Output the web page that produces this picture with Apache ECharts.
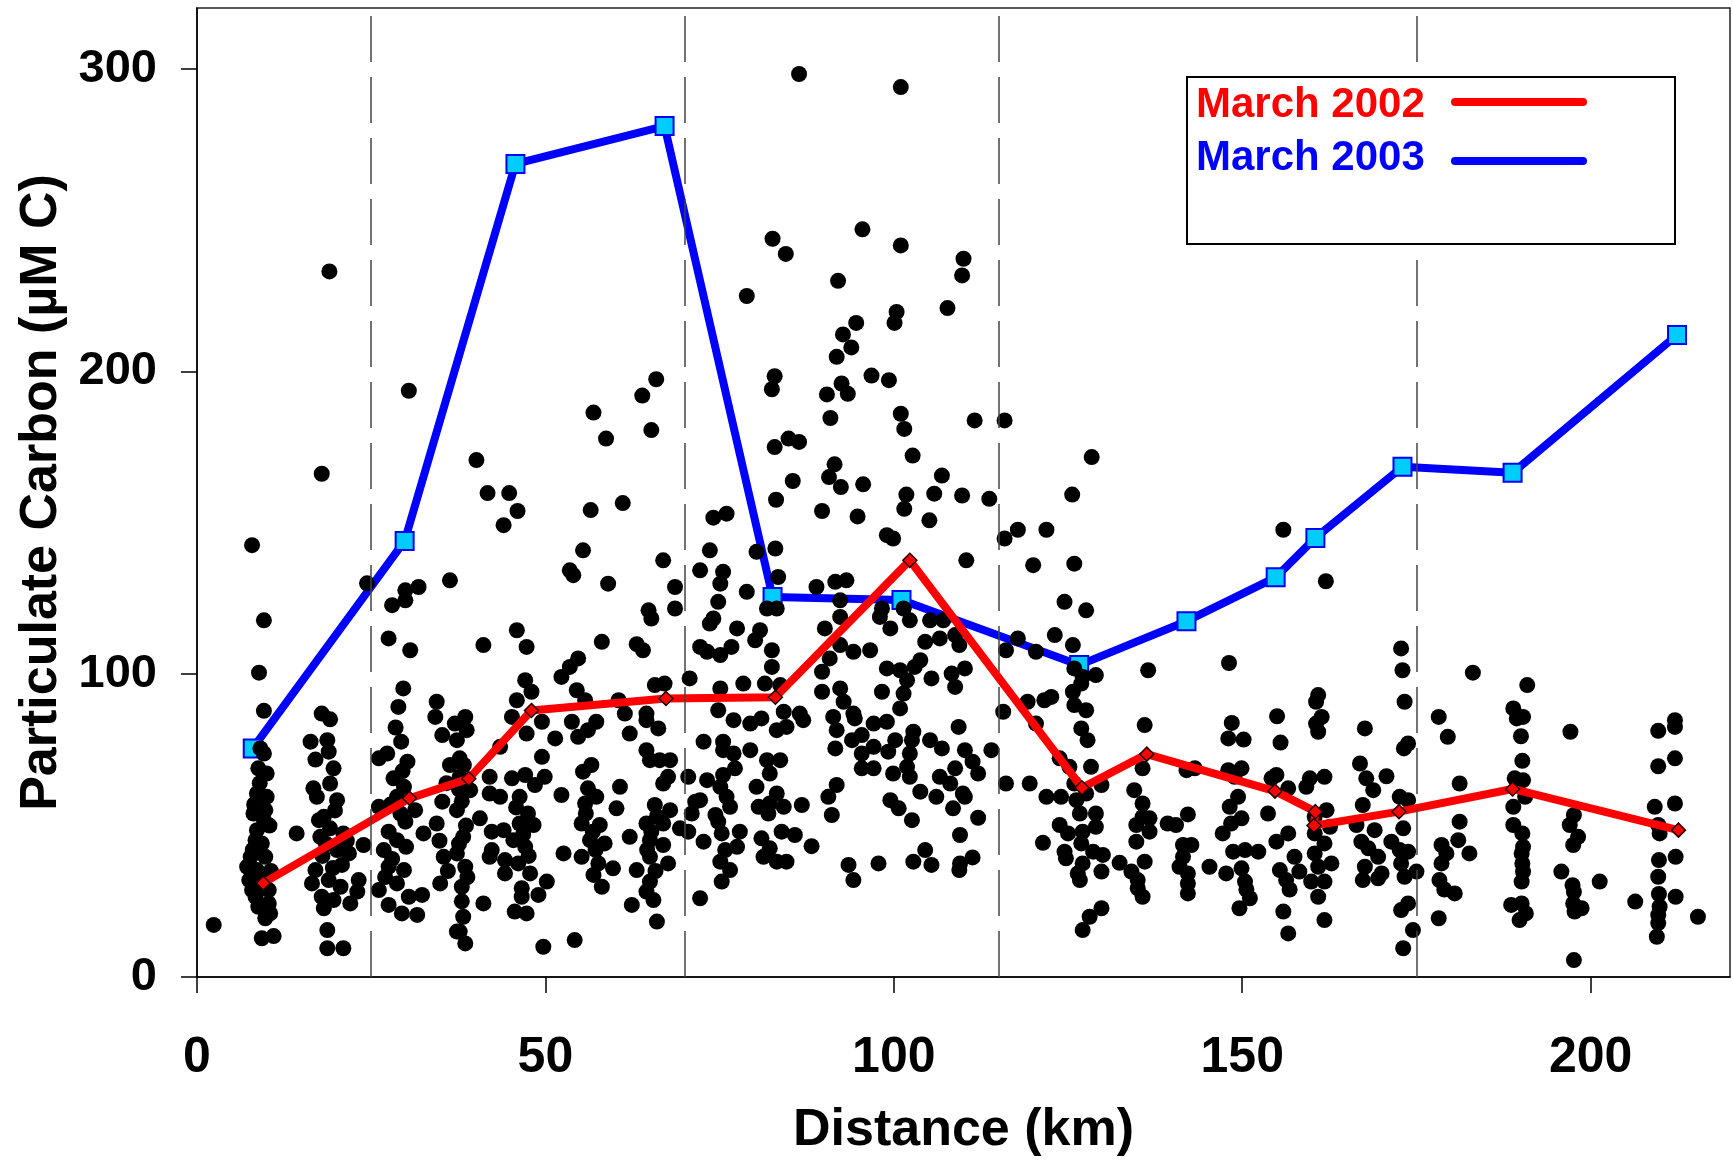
<!DOCTYPE html>
<html>
<head>
<meta charset="utf-8">
<title>Particulate Carbon vs Distance</title>
<script src="https://cdn.jsdelivr.net/npm/echarts@6.0.0/dist/echarts.min.js"></script>
<style>
  html, body { margin: 0; padding: 0; background: #fff; }
  #chart { width: 1733px; height: 1164px; }
</style>
</head>
<body>
<div id="chart"></div>
<script>
// axis ticks and the dashed section dividers (km)
const xTicks = [0, 50, 100, 150, 200]
const yTicks = [0, 100, 200, 300]
const dividerKm = [25, 70, 115, 175]

// transect means
const march2002Km = [9.5, 30.5, 39, 48, 67.3, 83, 102.3, 127, 136.3, 154.7, 160.5, 160.3, 172.5, 188.8, 212.6]
const march2002Carbon = [31, 59, 65.5, 88, 92, 92.4, 137.6, 62.5, 73.6, 61.4, 54.6, 50, 54.6, 62.1, 48.5]

const march2003Km = [8, 29.8, 45.7, 67.1, 82.6, 101.1, 126.6, 142, 154.8, 160.5, 173, 188.8, 212.4]
const march2003Carbon = [75.5, 144, 268.5, 281, 125.5, 124.5, 103, 117.5, 132, 145, 168.5, 166.5, 212]

// individual samples [km, µM C]
const stationPoints = [
  // ~9 km
  [7.9,142.6],[9.6,117.8],[8.9,100.5],[9.6,87.9],[9.1,75.5],[9.6,73.8],[8.8,68.9],[10,67.2],[8.6,60.6],[10,59.5],
  [8.1,54],[9.8,55.1],[9.6,51.8],[8.4,45.2],[9.3,44.1],[7.7,39.7],[9.8,39.7],[7.2,36.4],[8.6,35.3],[7.9,28.7],
  [10.3,28.7],[8.8,23.2],[10.3,24.3],[9.8,19.4],[9.3,12.8],[11,13.5],[2.4,17.2],[8.6,48.5],[9.3,32],[8.4,26.5],
  [8.2,57],[9.0,64],[10.4,50],[8.0,42],[10.6,35],[8.9,30.5],[7.5,32],[10.5,21],
  // ~18 km
  [17.9,87],[19.1,85.1],[16.3,77.7],[18.7,78.2],[18.9,74.4],[17,71.8],[19.6,68.9],[19.1,63.9],[16.7,62.3],[17.2,59.5],
  [20.1,58.4],[18.2,52.9],[17.5,51.8],[14.3,47.4],[19.1,49.1],[17.7,46.3],[21,47.4],[20.1,41.9],[21.8,40.8],[17,35.3],
  [16.5,30.9],[18.9,32],[20.6,29.8],[23.2,32],[23,28.2],[23.9,43.6],[17.9,26.5],[19.6,25.4],[22,24.3],[18.2,22.7],
  [18.7,15.5],[18.7,9.5],[21,9.5],[19,233],[17.9,166.2],[19.8,55],[18.5,44],[20.8,37],[19.5,36],[18,40],[21.5,45],
  // ~29 km
  [24.4,130],[29.9,127.7],[31.8,128.8],[28,122.8],[29.9,124.4],[36.3,131],[27.5,111.8],[30.6,107.9],[29.6,95.3],[28.9,89.2],
  [28.5,82.4],[29.3,77.7],[26.1,72.2],[27.3,73.8],[30.2,71.1],[28.2,65.6],[29.7,62.8],[28.7,59.5],[26.1,56.2],[29.2,54],
  [31.3,55.1],[27.5,48],[29.9,51.3],[26.8,41.9],[28.7,45.2],[27.5,36.4],[29.7,35.3],[26.1,28.7],[28.7,30.9],[30.4,26.5],
  [27.5,23.8],[29.4,21],[31.6,20.5],[32.3,27.1],[32.5,47.4],[34.4,90.9],[34.2,85.9],[35.2,79.9],[36.3,70],[35.2,57.9],
  [34.4,50.7],[35.4,39.7],[34.9,30.9],[37.3,15],[30.4,193.6],[28,39],[30,43],[27,33],[29.5,68],[27.8,57],[35.8,64],[34.8,45],[36,35],
  // 37-72 km
  [44,149.2],[55.4,140.9],[53.5,134.3],[54,132.7],[59,129.9],[66.9,137.6],[68.6,128.8],[68.6,121.7],
  [64.8,121.1],[65.2,118.4],[45.9,114.5],[41.1,109.6],[47.3,109],[58.1,110.7],[63.1,109.9],[64,107.9],
  [54.7,105.2],[53.5,102.4],[52.3,99.1],[47.1,98],[48,94.2],[54.5,94.7],[55.7,91.4],[60.5,91.4],[45.9,91.4],[65.7,96.4],
  [67.1,96.9],[70.7,98.6],[45.2,85.9],[61.4,87],[64.5,87],[64.5,84.8],[66.2,82.1],[53.8,84.3],[57.3,84.3],[54.7,79.3],
  [56.1,81.5],[49.5,84.3],[51.4,78.8],[47.3,80.4],[62.1,80.4],[38.5,85.9],[37,83.7],[38.7,81.5],[37.3,78.2],
  [43.5,76],[37.7,72.2],[49.5,72.7],[64.5,74.9],[65,71.6],[66.4,71.6],[67.9,71.6],[56.6,70],[55.4,67.8],[67.6,66.1],
  [66.9,63.9],[37.7,66.1],[42,66.1],[45.2,65.6],[47.1,66.7],[49.9,66.1],[48.5,63.4],[60.7,62.8],[70.5,66.1],
  [39.2,61.7],[42,60.6],[43.5,59.5],[46.3,59.5],[52.3,60.1],[56.1,62.3],[57.3,59.5],[55.7,57.3],[60.2,55.7],[65.7,56.8],
  [67.9,55.1],[71.5,57.9],[71,54],[40.6,52.4],[37.3,55.1],[47.5,54],[46.3,50.7],[48.3,50.2],[44,48.5],[42.3,48],
  [55.2,50.7],[57.8,50.2],[64.5,50.7],[66.9,50.7],[69.3,49.1],[70.5,48],[38.2,46.3],[37.3,40.8],[45.4,45.2],[47.1,43],
  [56.4,45.2],[58.5,44.1],[62.1,46.3],[65,45.2],[66.9,43.6],[42.3,41.9],[52.6,40.8],[55.2,39.7],[42,39.7],
  [44.2,38.6],[46.1,37.5],[57.6,37.5],[65,39.7],[67.6,37.5],[38.5,36.4],[59.7,35.9],[63.1,35.3],[44.2,34.2],[47.8,34.2],
  [56.9,33.7],[38,29.8],[50.2,31.5],[46.6,29.3],[58.1,29.8],[65,31.5],[49,27.1],[46.6,26.5],[64.5,28.2],[65.5,25.4],
  [41.1,24.3],[62.4,23.8],[45.6,21.6],[47.3,21],[38.2,19.9],[66,18.3],[37.7,15],[38.5,11.1],[49.7,10],[54.2,12.2],
  [38,58],[38.6,50],[37.6,44],[38.8,33],[38,25],[46.8,47],[47.6,40],[45.8,56],[56.8,48],[57.2,42],[55.8,54],
  [65.2,48],[64.6,42],[66,53],[65.8,35],[38.3,70],[37.6,62],
  // upper scatter
  [86.4,298.2],[101,293.9],[82.6,243.8],[84.5,238.8],[95.5,246.9],[101,241.6],[110,237.2],[109.8,231.7],[92,229.9],[78.9,224.9],
  [107.7,220.9],[100.4,219.6],[100.1,216],[94.6,216],[92.7,212.2],[93.9,207.9],[91.8,204.8],[82.9,198.4],[82.5,194.1],[96.8,198.6],
  [99.3,197.1],[92.5,196],[90.4,192.4],[93.4,192.6],[65.9,197.4],[63.9,192],[56.9,186.4],[58.7,177.8],[65.2,180.6],[90.9,184.6],
  [101,186],[101.5,181],[102.7,172.2],[82.9,175],[84.9,177.8],[86.4,176.7],[91.5,169.3],[90.7,165.1],[92.4,161.8],[95.6,162.7],
  [85.5,163.8],[106.9,165.6],[83.1,157.6],[101.8,159.3],[105.8,159.6],[109.8,159],[101.5,154.6],[89.7,153.9],[94.8,152.1],[105.1,150.8],
  [40.1,170.7],[41.7,159.8],[44.8,159.8],[46,153.9],[56.5,154.2],[61.1,156.5],[74.1,151.7],[76,153],
  [111.6,183.8],[115.9,183.8],[128.4,171.7],[113.7,157.9],[125.6,159.3],
  // 72-109 km
  [99,145.9],[99.9,144.8],[73.6,140.9],[80.3,140.4],[83,141.5],[72.2,134.3],[75.5,133.8],[75.1,129.9],[78.9,127.2],[83.4,132.1],
  [88.9,128.8],[91.6,130.5],[93.2,131],[92.3,124.4],[74.8,123.9],[74.1,118.4],[73.6,116.7],[81.8,121.7],[83.2,121.7],[80.8,114.5],
  [80.1,111.2],[77.5,115.1],[76.7,109],[73.2,107.4],[75.1,106.3],[72.2,109],[90.1,115.1],[92.3,118.9],[92.3,109.6],[94.2,107.4],
  [96.6,107.9],[98.3,121.7],[98,118.9],[99.5,115.1],[101.4,121.7],[102.3,117.8],[105.2,117.8],[107.1,117.8],[104.5,110.7],[106.6,111.8],
  [108.8,112.9],[82.5,107.9],[82.5,102.4],[90.8,105.2],[89.7,100.8],[99,101.9],[100.9,101.3],[103.8,104.6],[103,102.4],[105.4,98.6],
  [108.3,100.2],[78.4,96.9],[81.5,96.9],[83.7,96.4],[75.1,95.3],[101.9,98],[101.4,93.6],[89.7,94.2],[92.3,95.3],[98.3,94.2],
  [108.8,95.8],[74.8,88.1],[77,84.8],[79.4,83.7],[81,85.4],[84.2,87.6],[83.2,81.5],[84.6,82.6],[86.5,87],[87,84.8],
  [92.8,90.9],[91.3,85.9],[91.8,81.5],[94.2,87],[94.4,85.4],[97.1,83.7],[99,84.3],[100.9,88.7],[100.2,78.2],[102.8,81],
  [102.6,78.2],[105.2,78.2],[106.9,75.5],[109.3,82.6],[95.4,79.9],[94,78.2],[97.1,76],[95.4,73.8],[99.2,74.4],[102.3,73.8],
  [101.9,69.4],[102.3,66.1],[91.6,75.5],[72.7,77.7],[75.5,77.7],[75.5,74.9],[77,73.8],[79.4,74.9],[81.8,71.6],[83.7,71.6],
  [82.2,67.2],[77.2,68.9],[75.5,66.7],[73.2,65],[95.4,68.9],[97.1,68.9],[99.9,67.2],[106.6,66.1],[108.1,63.9],[108.8,68.9],
  [75.1,62.8],[76,59.5],[80.3,62.8],[83.2,60.6],[91.8,63.4],[90.6,59.5],[103.8,61.2],[106.1,59.5],[99.5,58.4],[100.7,55.7],
  [72.2,58.4],[76.5,56.2],[80.6,56.2],[82.2,57.3],[84.2,56.2],[86.8,56.8],[108.5,55.7],[74.4,53.5],[74.8,51.3],[91.1,53.5],
  [102.6,51.8],[82,54],[75.3,47.4],[77.9,48],[72.7,44.7],[81,45.8],[83.9,48],[85.8,46.9],[109.5,46.9],[75.8,41.9],
  [77.5,43],[82.2,42.5],[88.2,43.2],[81.3,39.7],[83.2,38.1],[84.6,38.1],[75.1,38.1],[76.5,35.3],[93.5,37],[97.8,37.5],
  [102.8,38.1],[104.5,41.9],[105.4,37],[109.5,37.5],[94.2,32],[75.3,31.5],[72.2,26],
  // 109-145 km
  [115.9,144.8],[117.8,147.7],[121.9,147.7],[110.4,137.6],[120,136],[125.9,136.5],[124.5,123.9],[127.6,121.1],[123.1,112.9],[125.7,109.6],
  [117.8,111.8],[116.1,107.9],[120.4,107.4],[109.4,109.6],[110.2,101.9],[125.9,101.9],[127.1,99.1],[129,99.7],[126.9,96.9],
  [125.7,94.2],[125.9,89.8],[127.6,88.1],[136.5,101.3],[121.6,91.4],[122.6,92.5],[119.2,90.9],[115.7,87.6],[120.4,83.7],
  [136,83.2],[126.9,82.1],[127.8,78.2],[110.2,74.9],[114,74.9],[111.3,71.1],[112.1,67.2],[123.8,72.2],[125.2,69.4],[128.3,69.4],
  [135.7,68.9],[142,68.3],[143.2,68.9],[116.1,63.9],[119.5,63.9],[109.9,60.6],[110.2,59.5],[121.9,59.5],[124,59.5],[125.9,63.9],
  [129.8,63.4],[134.5,61.7],[126.2,58.4],[127.6,60.6],[135.7,57.3],[112.1,52.6],[126.7,54],[129,54],[135.7,52.9],[136.7,52.4],
  [142.2,53.7],[139.3,50.7],[140.5,50.2],[134.8,50.2],[123.8,50.2],[129,49.6],[127.1,48],[125,47.4],[136.7,48],[134.8,44.7],
  [121.4,44.3],[126.9,44.1],[141.5,43.6],[142.7,43.6],[124.5,41.4],[128.6,41.4],[130,40.3],[141.5,39.7],[111.3,39.5],[109.4,35.3],
  [124.7,39.2],[127.1,37.5],[132.4,37.7],[136,38.1],[141,36.4],[129.8,34.8],[134.1,34.8],[142.2,34.2],[126.4,34.2],[126.7,32],
  [135,32],[142.2,30.9],[135,29.3],[135.7,26.5],[142.2,27.6],[129.8,22.7],[128.1,19.9],[127.1,15.5],
  // 145-181 km
  [155.9,147.7],[162,130.7],[148.1,103.7],[172.8,108.5],[173,101.3],[173.3,90.9],[160.9,93.1],[160.6,90.9],[161.4,85.9],[160.6,83.7],
  [160.9,81],[155,86.1],[155.5,77.4],[148.5,83.9],[148,78.8],[150.2,78.4],[167.6,82.1],[173.8,77.1],[173.2,75.5],[178.2,85.9],
  [179.5,79.3],[166.9,70.5],[148,68.3],[149.9,68.9],[148.9,66.1],[154.9,66.7],[154.2,65.6],[159.7,65.6],[161.8,66.1],[167.8,65.6],
  [170.7,66.3],[168.8,61.7],[156.6,62.3],[159.2,62.8],[149.4,59.5],[148.2,56.2],[172.6,59.5],[173.8,58.4],[181.2,63.9],[167.3,56.8],
  [153.7,54],[162.1,55.1],[160.4,52.9],[149.9,52.4],[148.4,50.7],[166.4,50.2],[169,48.5],[173.1,49.1],[162.6,49.6],[147.2,47.4],
  [156.6,47.4],[160.4,47.4],[181.2,51.3],[181,45.2],[154.9,44.7],[167.1,44.7],[171.4,44.7],[161.8,44.1],[148.7,41.4],[150.4,41.9],
  [152.3,41.4],[168.1,42.5],[172.6,41.9],[173.8,41.4],[178.6,43.6],[179.3,40.8],[160.4,40.8],[157.5,39.7],[169.5,39.7],[178.6,37.5],
  [145.3,36.4],[149.9,35.9],[155.4,35.3],[158.2,34.8],[162.8,37.5],[160.9,36.4],[167.6,36.4],[172.8,37.5],[175,34.8],[147.7,34.2],
  [170,34.2],[150.4,31.5],[156.3,32],[159.9,31.5],[161.8,31.5],[167.3,32],[169.5,32.6],[173.3,33.1],[178.3,32],[150.6,28.9],
  [156.8,28.9],[160.9,26.5],[151.1,26],[149.6,22.7],[155.9,21.6],[173.8,24.3],[172.8,22.1],[161.8,18.8],[178.2,19.4],[156.6,14.4],
  [174.5,15.5],[173.1,9.5],[179,28.9],
  // 181-216 km
  [183.1,100.5],[190.9,96.4],[188.9,88.7],[190.3,85.9],[189.4,85.4],[190,79.5],[197.1,81],[209.7,81.3],[212.1,84.8],[212.1,82.6],
  [190.2,71.4],[209.7,69.6],[212.1,72.2],[189.1,65.6],[190.3,65],[190.6,59.5],[188.9,56.2],[209.2,56.2],[212.1,57.3],[197.6,53.5],
  [188.9,50.2],[190.2,47.4],[197,50.2],[198.2,46.3],[209.9,47.4],[209.7,50.2],[190.3,43],[197.5,43.6],[182.6,40.8],[190.1,40.8],
  [209.8,38.6],[212.2,39.7],[190.2,37.5],[190.3,34.8],[195.8,34.8],[209.7,33.1],[201.3,31.5],[190.1,31.5],[197.4,30.3],[197.6,28.1],
  [180.5,27.6],[209.8,27.4],[212.2,26.5],[206.4,24.9],[188.6,23.8],[190.1,24.3],[197.5,24.3],[198.7,22.7],[197.7,21.6],[190.7,21],
  [189.8,18.8],[209.9,23.2],[209.7,20.5],[209.7,17.8],[209.5,13.3],[215.4,19.9],[197.6,5.6]
]

const FONT = '"Liberation Sans", Arial, sans-serif'

const chart = echarts.init(document.getElementById('chart'), null, { renderer: 'canvas' })

chart.setOption({
  animation: false,
  backgroundColor: '#fff',
  grid: {
    left: 197,
    right: 3,
    top: 8,
    bottom: 187,
    show: true,
    borderColor: '#222',
    borderWidth: 1.5,
    containLabel: false
  },
  xAxis: {
    type: 'value',
    min: 0,
    max: 220,
    interval: 50,
    name: 'Distance (km)',
    nameLocation: 'middle',
    nameGap: 128,
    nameTextStyle: { fontFamily: FONT, fontWeight: 'bold', fontSize: 52, color: '#000' },
    axisLine: { onZero: false, lineStyle: { color: '#000', width: 1.5 } },
    axisTick: { customValues: xTicks, length: 16, lineStyle: { color: '#000', width: 1.5 } },
    axisLabel: {
      customValues: xTicks,
      margin: 56,
      fontFamily: FONT,
      fontWeight: 'bold',
      fontSize: 50,
      color: '#000'
    },
    splitLine: { show: false }
  },
  yAxis: {
    type: 'value',
    min: 0,
    max: 320,
    interval: 100,
    name: 'Particulate Carbon (µM C)',
    nameLocation: 'middle',
    nameGap: 118,
    nameTextStyle: { fontFamily: FONT, fontWeight: 'bold', fontSize: 52, color: '#000' },
    axisLine: { onZero: false, lineStyle: { color: '#000', width: 1.5 } },
    axisTick: { customValues: yTicks, length: 16, lineStyle: { color: '#000', width: 1.5 } },
    axisLabel: {
      customValues: yTicks,
      margin: 40,
      fontFamily: FONT,
      fontWeight: 'bold',
      fontSize: 47,
      color: '#000'
    },
    splitLine: { show: false }
  },
  series: [
    {
      name: 'March 2003',
      type: 'line',
      z: 2,
      data: march2003Km.map((km, i) => [km, march2003Carbon[i]]),
      symbol: 'rect',
      symbolSize: 18,
      showAllSymbol: true,
      lineStyle: { color: '#0000ff', width: 8, cap: 'round', join: 'round' },
      itemStyle: { color: '#00ccff', borderColor: '#0000ff', borderWidth: 2 }
    },
    {
      name: 'samples',
      type: 'scatter',
      z: 3,
      data: stationPoints,
      symbol: 'circle',
      symbolSize: 16,
      itemStyle: { color: '#000', opacity: 1 },
      markLine: {
        silent: true,
        symbol: ['none', 'none'],
        label: { show: false },
        lineStyle: { color: '#444', width: 1.5, type: [46, 15] },
        data: dividerKm.map(km => ({ xAxis: km }))
      }
    },
    {
      name: 'March 2002',
      type: 'line',
      z: 4,
      data: march2002Km.map((km, i) => [km, march2002Carbon[i]]),
      symbol: 'diamond',
      symbolSize: 14,
      showAllSymbol: true,
      lineStyle: { color: '#ff0000', width: 8, cap: 'round', join: 'round' },
      itemStyle: { color: '#ff0000', borderColor: '#220000', borderWidth: 1.5 }
    }
  ],
  graphic: [
    {
      type: 'rect',
      z: 10,
      shape: { x: 1187, y: 77, width: 488, height: 167 },
      style: { fill: '#fff', stroke: '#000', lineWidth: 2 }
    },
    {
      type: 'text',
      z: 11,
      x: 1196,
      y: 105,
      style: { text: 'March 2002', fill: '#ff0000', font: 'bold 42px ' + FONT, verticalAlign: 'middle' }
    },
    {
      type: 'text',
      z: 11,
      x: 1196,
      y: 158,
      style: { text: 'March 2003', fill: '#0000ff', font: 'bold 42px ' + FONT, verticalAlign: 'middle' }
    },
    {
      type: 'line',
      z: 11,
      shape: { x1: 1455, y1: 102, x2: 1583, y2: 102 },
      style: { stroke: '#ff0000', lineWidth: 8, lineCap: 'round' }
    },
    {
      type: 'line',
      z: 11,
      shape: { x1: 1455, y1: 161, x2: 1583, y2: 161 },
      style: { stroke: '#0000ff', lineWidth: 8, lineCap: 'round' }
    }
  ]
})

window.addEventListener('resize', () => chart.resize())
</script>
</body>
</html>
